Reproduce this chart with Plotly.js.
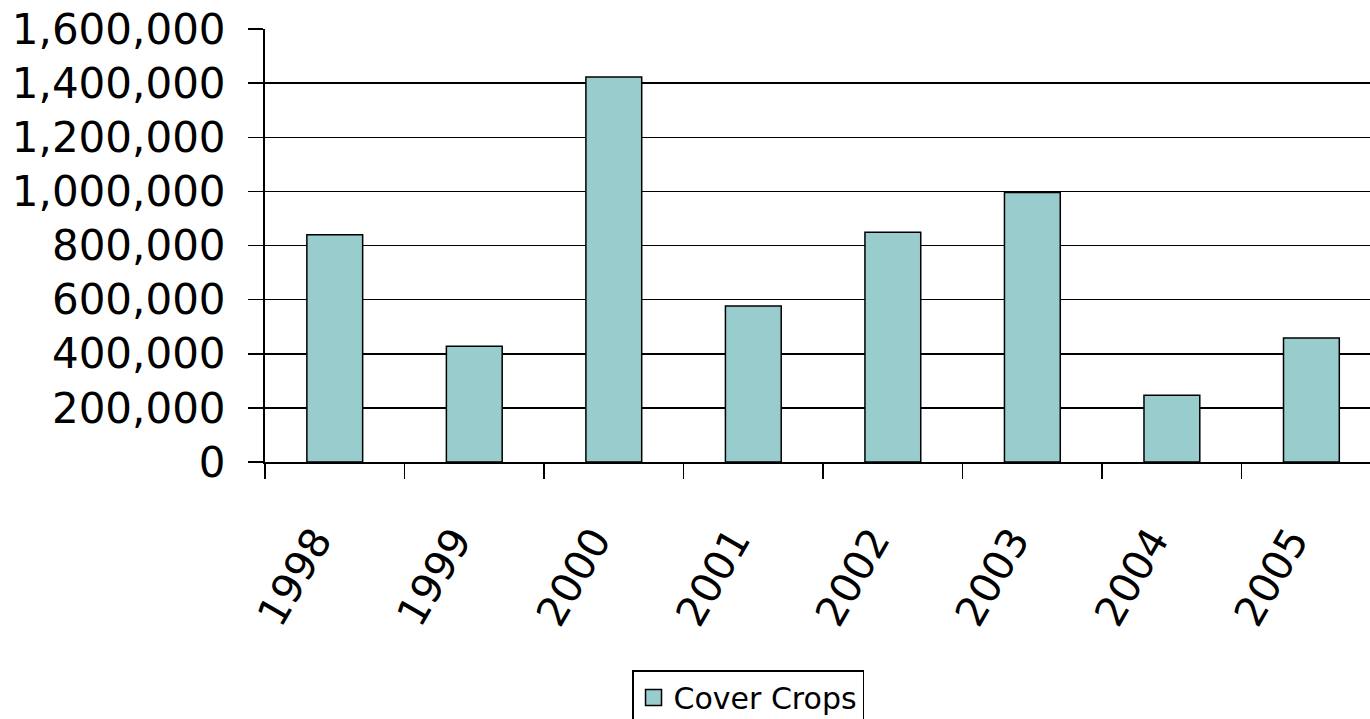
<!DOCTYPE html>
<html>
<head>
<meta charset="utf-8">
<script src="https://cdn.plot.ly/plotly-3.0.1.min.js"></script>
<style>
html,body{margin:0;padding:0;background:#fff;overflow:hidden;}
#chart{width:1370px;height:719px;}
</style>
</head>
<body>
<div id="chart"></div>
<script>
const years = ["1998","1999","2000","2001","2002","2003","2004","2005"];
const coverCrops = [840000, 428000, 1423000, 576000, 849000, 996000, 247000, 458000];
const seriesName = "Cover Crops";
const yTicks = [0, 200000, 400000, 600000, 800000, 1000000, 1200000, 1400000, 1600000];
const yTickText = ["0","200,000","400,000","600,000","800,000","1,000,000","1,200,000","1,400,000","1,600,000"];

const NB = "\u00A0";
const barFill = "#99CCCC";

const bars = {
  type: "bar",
  x: years,
  y: coverCrops,
  name: seriesName,
  width: 0.4,
  marker: {color: barFill, line: {color: "#000000", width: 1.5}},
  showlegend: false
};

// legend-only proxy so the legend key is a larger square
const legendKey = {
  type: "scatter",
  mode: "markers",
  x: years,
  y: years.map(() => null),
  name: seriesName,
  marker: {symbol: "square", size: 18, color: barFill, line: {color: "#000", width: 1.5}},
  showlegend: true,
  hoverinfo: "skip"
};

const layout = {
  width: 1370,
  height: 719,
  margin: {l: 265, r: 0, t: 29, b: 257, pad: 0},
  paper_bgcolor: "#ffffff",
  plot_bgcolor: "#ffffff",
  font: {family: "DejaVu Sans, Verdana, sans-serif", color: "#000000"},
  xaxis: {
    type: "category",
    range: [-0.5, 7.42],
    tickson: "boundaries",
    tickvals: years,
    ticktext: years.map(y => y + NB + NB + NB),
    ticks: "outside",
    ticklen: 15,
    tickwidth: 1.5,
    tickcolor: "#000",
    tickangle: -60,
    ticklabelstandoff: 2,
    tickfont: {size: 41, color: "#000"},
    showline: true,
    linecolor: "#000",
    linewidth: 2,
    showgrid: false,
    zeroline: false,
    fixedrange: true
  },
  yaxis: {
    range: [0, 1600000],
    tickvals: yTicks,
    ticktext: yTickText,
    ticks: "outside",
    ticklen: 15,
    tickwidth: 1.5,
    tickcolor: "#000",
    tickfont: {size: 42, color: "#000"},
    ticklabelstandoff: 14,
    showline: true,
    linecolor: "#000",
    linewidth: 2,
    showgrid: true,
    gridcolor: "#000",
    gridwidth: 1.5,
    zeroline: false,
    fixedrange: true
  },
  showlegend: true,
  legend: {
    orientation: "h",
    xref: "container",
    yref: "container",
    x: 0.546,
    xanchor: "center",
    y: 0.068,
    yanchor: "top",
    bordercolor: "#000",
    borderwidth: 1.5,
    bgcolor: "#fff",
    font: {size: 30, color: "#000"}
  }
};

Plotly.newPlot("chart", [bars, legendKey], layout, {displayModeBar: false, staticPlot: true});
</script>
</body>
</html>
